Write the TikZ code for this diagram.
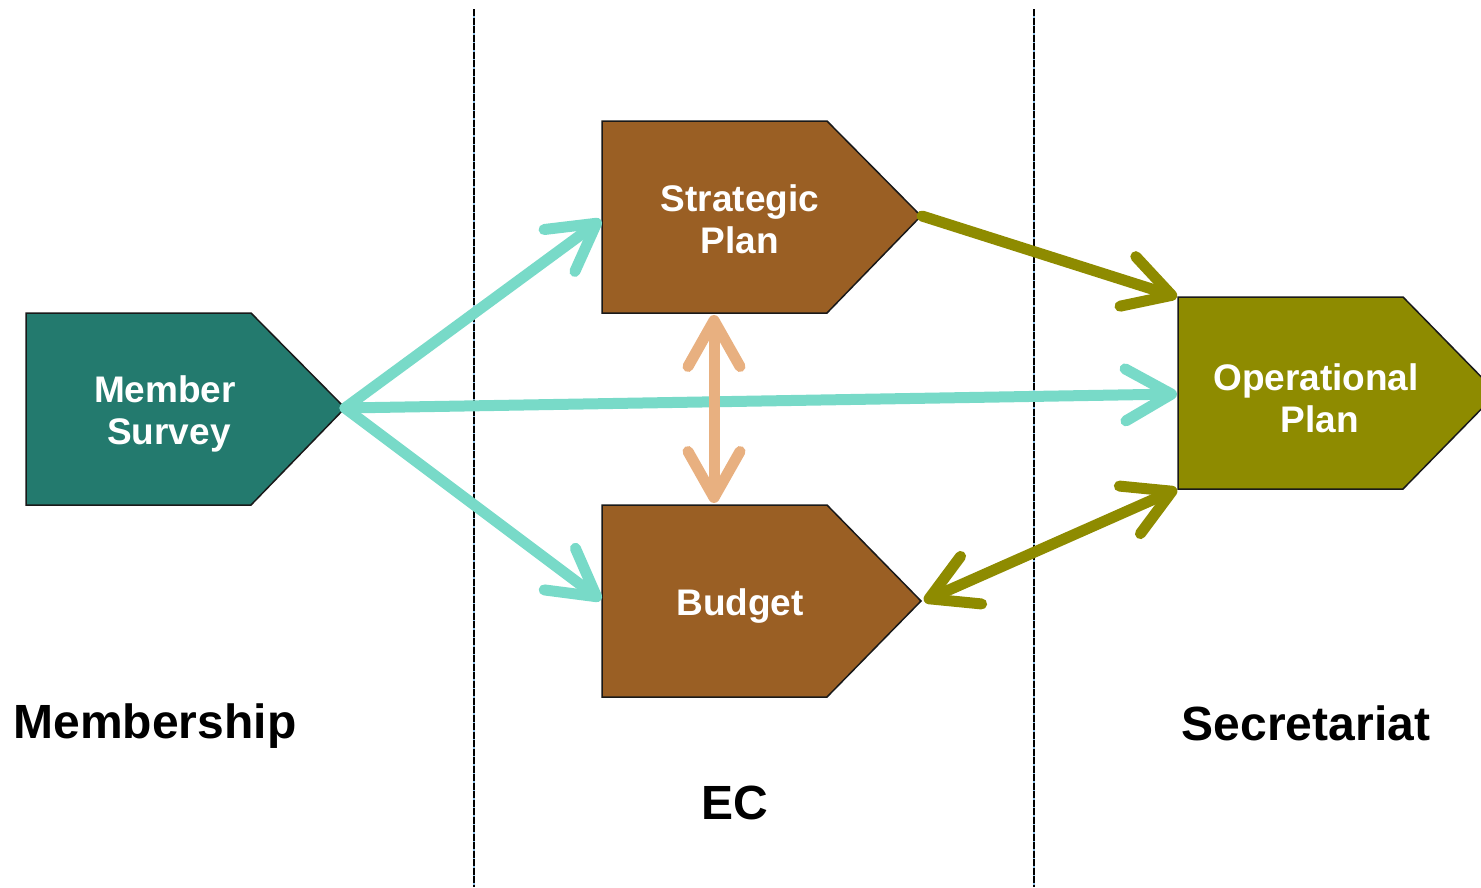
\documentclass[tikz,border=0pt]{standalone}
\usepackage{fontspec}
\setmainfont{Liberation Sans}
\usetikzlibrary{arrows.meta}
\definecolor{tealdark}{RGB}{35,122,110}
\definecolor{brownbox}{RGB}{154,95,36}
\definecolor{olivebox}{RGB}{142,139,0}
\definecolor{teallight}{RGB}{120,218,200}
\definecolor{peach}{RGB}{232,176,128}
\definecolor{gapblue}{RGB}{140,190,230}
\begin{document}
\begin{tikzpicture}[x=1pt,y=-1pt,
  shapebox/.style={draw=black!90,line width=1.5pt},
  boxtext/.style={text=white,font=\bfseries\fontsize{37}{42}\selectfont,align=center},
  lbl/.style={text=black,font=\bfseries\fontsize{48}{52}\selectfont},
  conn/.style={line width=11pt,line cap=round,-{Straight Barb[length=46pt,width=52pt,round]}},
  conn2/.style={line width=11pt,line cap=round,{Straight Barb[length=46pt,width=52pt,round]}-{Straight Barb[length=46pt,width=52pt,round]}},
  divider/.style={line width=1.5pt,dash pattern=on 7pt off 1.5pt}
]
\useasboundingbox (0,0) rectangle (1481,887);
% dividers
\draw[gapblue,line width=1.2pt] (474,9) -- (474,887);
\draw[gapblue,line width=1.2pt] (1034,9) -- (1034,887);
\draw[divider] (474,9) -- (474,887);
\draw[divider] (1034,9) -- (1034,887);
% shapes
\draw[shapebox,fill=tealdark] (26,313) -- (251,313) -- (345,408) -- (251,505) -- (26,505) -- cycle;
\draw[shapebox,fill=brownbox] (602,121) -- (827,121) -- (921,216) -- (827,313) -- (602,313) -- cycle;
\draw[shapebox,fill=brownbox] (602,505) -- (827,505) -- (921,601) -- (827,697) -- (602,697) -- cycle;
\draw[shapebox,fill=olivebox] (1178,297) -- (1403,297) -- (1497,393) -- (1403,489) -- (1178,489) -- cycle;
% anchor coordinates
\coordinate (msTip) at (345,408);
\coordinate (spL) at (601,220);
\coordinate (spTip) at (922,216);
\coordinate (spB) at (714,315);
\coordinate (bL) at (601,600);
\coordinate (bTip) at (924,601);
\coordinate (bT) at (714,503);
\coordinate (opTL) at (1177,297);
\coordinate (opL) at (1177,394);
\coordinate (opBL) at (1177,489);
% texts
\node[boxtext] (ms) at (165,414) {Member\\\hspace*{8pt}Survey};
\node[boxtext] (sp) at (740,219) {Strategic\\Plan};
\node[boxtext] (bu) at (740,606) {Budget};
\node[boxtext] (op) at (1316,398) {Operational\\\hspace*{8pt}Plan};
\node[lbl] (mem) at (155,726) {Membership};
\node[lbl] (ec) at (735,803) {EC};
\node[lbl] (sec) at (1306,723) {Secretariat};
% connectors
\draw[conn,teallight] (msTip) -- (spL);
\draw[conn,teallight] (msTip) -- (bL);
\draw[conn,teallight] (msTip) -- (opL);
\draw[conn,olivebox] (spTip) -- (opTL);
\draw[conn2,olivebox] (bTip) -- (opBL);
\draw[conn2,peach] (spB) -- (bT);
\end{tikzpicture}
\end{document}
